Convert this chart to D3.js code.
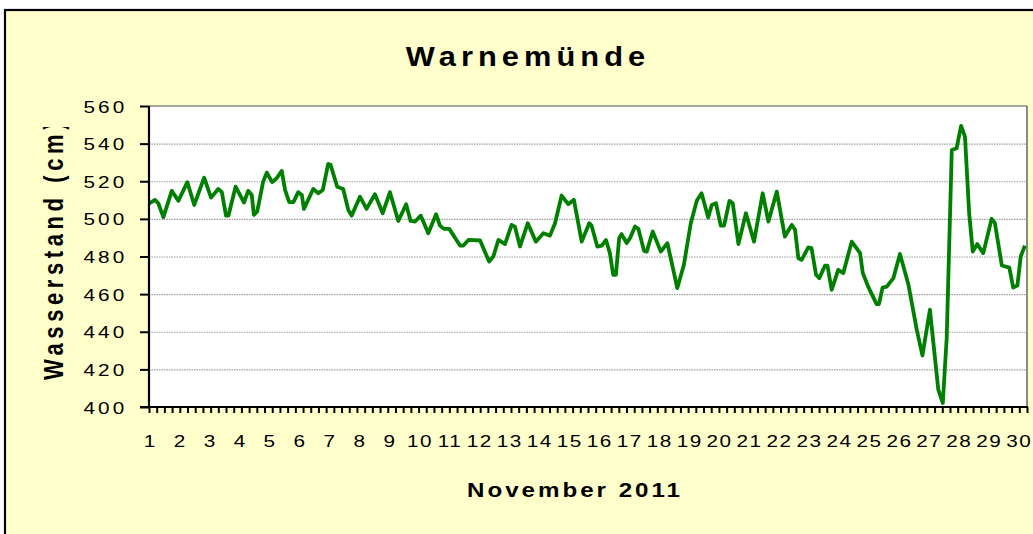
<!DOCTYPE html>
<html>
<head>
<meta charset="utf-8">
<script src="https://cdn.jsdelivr.net/npm/d3@7"></script>
<style>
  html, body { margin: 0; padding: 0; background: #ffffff; }
  svg { display: block; }
  text { font-family: "Liberation Sans", Arial, sans-serif; fill: #000; }
</style>
</head>
<body>
<svg id="chart" width="1033" height="534"></svg>
<script>
// ---- Data ----
const titleText = "Warnemünde";
const xTitle = "November 2011";
const yTitle = "Wasserstand (cm)";

// day position (1 = 1 Nov 00:00), water level in cm
const dayPos = [
  1.01, 1.20, 1.31, 1.48, 1.76, 1.98, 2.28, 2.51, 2.84, 3.07,
  3.31, 3.43, 3.57, 3.65, 3.89, 4.17, 4.31, 4.43, 4.50, 4.61,
  4.81, 4.93, 5.11, 5.26, 5.43, 5.54, 5.68, 5.82, 5.98, 6.10,
  6.17, 6.48, 6.65, 6.80, 6.98, 7.06, 7.28, 7.48, 7.65, 7.76,
  8.04, 8.26, 8.54, 8.80, 9.04, 9.32, 9.58, 9.73, 9.88, 10.07,
  10.32, 10.58, 10.71, 10.84, 11.02, 11.38, 11.49, 11.66, 12.05, 12.35,
  12.49, 12.66, 12.88, 13.10, 13.21, 13.38, 13.64, 13.91, 14.16, 14.38,
  14.55, 14.77, 14.99, 15.18, 15.44, 15.69, 15.77, 15.96, 16.11, 16.25,
  16.38, 16.49, 16.58, 16.69, 16.77, 16.94, 17.05, 17.22, 17.33, 17.52,
  17.61, 17.81, 18.08, 18.30, 18.63, 18.85, 19.08, 19.28, 19.44, 19.66,
  19.78, 19.92, 20.08, 20.19, 20.37, 20.48, 20.67, 20.92, 21.19, 21.48,
  21.67, 21.95, 22.22, 22.45, 22.56, 22.67, 22.78, 23.00, 23.11, 23.26,
  23.37, 23.56, 23.64, 23.78, 24.00, 24.17, 24.45, 24.73, 24.82, 25.00,
  25.28, 25.36, 25.48, 25.62, 25.84, 26.06, 26.34, 26.62, 26.81, 27.06,
  27.34, 27.49, 27.62, 27.79, 27.95, 28.10, 28.23, 28.37, 28.49, 28.64,
  28.84, 29.12, 29.23, 29.46, 29.71, 29.84, 29.98, 30.09, 30.23
];
const level = [
  508.3, 510.1, 508.3, 500.9, 514.9, 509.6, 519.5, 507.4, 521.9, 511.3,
  515.9, 514.2, 501.7, 501.7, 517.1, 508.7, 514.9, 512.7, 502.1, 503.9,
  519.8, 524.6, 519.5, 521.6, 525.5, 515.4, 508.9, 508.9, 514.2, 512.7,
  505.3, 515.9, 513.6, 515.4, 529.2, 528.7, 517.1, 515.9, 504.8, 501.7,
  511.8, 505.3, 513.1, 503.0, 514.2, 498.9, 507.8, 498.9, 498.6, 501.7,
  492.4, 502.5, 496.4, 494.7, 494.7, 485.8, 485.8, 488.8, 488.5, 477.3,
  480.0, 488.8, 486.6, 496.8, 495.9, 485.3, 497.7, 487.9, 492.4, 491.1,
  497.7, 512.4, 507.8, 510.1, 487.9, 497.7, 496.4, 485.3, 485.8, 488.8,
  481.8, 470.3, 470.3, 489.7, 491.9, 487.1, 489.7, 495.9, 494.7, 483.0,
  482.6, 493.3, 482.6, 487.1, 463.2, 475.6, 497.7, 509.6, 513.6, 500.7,
  507.4, 508.3, 496.4, 496.4, 509.6, 508.3, 486.6, 503.0, 487.9, 513.6,
  498.6, 514.5, 490.6, 496.8, 494.2, 479.1, 478.2, 484.8, 484.4, 470.3,
  468.5, 475.2, 475.2, 462.3, 472.9, 471.2, 487.9, 481.8, 471.2, 464.0,
  454.7, 454.7, 463.5, 464.0, 468.5, 481.3, 465.3, 441.1, 427.4, 451.7,
  409.2, 402.1, 436.6, 536.6, 537.5, 549.4, 543.7, 503.0, 482.6, 486.6,
  481.8, 500.0, 497.7, 475.2, 474.1, 463.5, 464.6, 480.0, 485.8
];

const yTicks = [400, 420, 440, 460, 480, 500, 520, 540, 560];
const dayLabels = d3.range(1, 31);       // 1 ... 30
const minorTickCount = 114;              // small tick marks along the x axis

// ---- Layout ----
const W = 1033, H = 534;
const plot = { left: 149, right: 1027, top: 106, bottom: 407 };
const SX = 1.22;   // horizontal stretch of the glyphs, as in the reference

const svg = d3.select("#chart");

svg.append("rect").attr("x", 0).attr("y", 0).attr("width", W).attr("height", H).attr("fill", "#ffffff");
svg.append("rect")
  .attr("x", 5).attr("y", 10).attr("width", W + 20).attr("height", H + 20)
  .attr("fill", "#FFFFCC").attr("stroke", "#000").attr("stroke-width", 2.2);

const x = d3.scaleLinear().domain([1, 30.3]).range([plot.left, plot.right]);
const y = d3.scaleLinear().domain([400, 560]).range([plot.bottom, plot.top]);

svg.append("rect")
  .attr("x", plot.left).attr("y", plot.top)
  .attr("width", plot.right - plot.left).attr("height", plot.bottom - plot.top)
  .attr("fill", "#ffffff");

// gridlines
svg.append("g").selectAll("line")
  .data(yTicks.filter(v => v > 400 && v < 560))
  .join("line")
  .attr("x1", plot.left).attr("x2", plot.right)
  .attr("y1", d => y(d) + 0.5).attr("y2", d => y(d) + 0.5)
  .attr("stroke", "#a0a0a0").attr("stroke-width", 1.2)
  .attr("stroke-dasharray", "1.5,1");

svg.append("line")
  .attr("x1", plot.left).attr("x2", plot.right)
  .attr("y1", y(560)).attr("y2", y(560))
  .attr("stroke", "#8a8a8a").attr("stroke-width", 1.5);
svg.append("line")
  .attr("x1", plot.right).attr("x2", plot.right)
  .attr("y1", plot.top).attr("y2", plot.bottom)
  .attr("stroke", "#8a8a8a").attr("stroke-width", 2);

// data line
const line = d3.line().x((d, i) => x(dayPos[i])).y(d => y(d));
svg.append("path")
  .datum(level)
  .attr("d", line)
  .attr("fill", "none")
  .attr("stroke", "#008000")
  .attr("stroke-width", 3.8)
  .attr("stroke-linejoin", "round")
  .attr("stroke-linecap", "butt");

// y axis
const yAxis = svg.append("g")
  .attr("transform", `translate(${plot.left},0)`)
  .call(d3.axisLeft(y).tickValues(yTicks).tickSize(9).tickPadding(11).tickFormat(d3.format("d")));
yAxis.select(".domain").remove();
yAxis.selectAll(".tick line").attr("stroke", "#000").attr("stroke-width", 2);
yAxis.selectAll(".tick text")
  .attr("font-size", 17).attr("letter-spacing", 2.6)
  .attr("font-family", "Liberation Sans, Arial, sans-serif")
  .attr("x", -21.5 / SX)
  .attr("transform", `scale(${SX},1)`)
  .attr("dy", "0.36em");
svg.append("line")
  .attr("x1", plot.left).attr("x2", plot.left)
  .attr("y1", plot.top).attr("y2", plot.bottom + 1)
  .attr("stroke", "#000").attr("stroke-width", 2.2);

// x axis: small ticks
const minorTicks = d3.range(minorTickCount + 1).map(i => 1 + i * (30.3 - 1) / minorTickCount);
const xMinor = svg.append("g")
  .attr("transform", `translate(0,${plot.bottom})`)
  .call(d3.axisBottom(x).tickValues(minorTicks).tickSize(6).tickFormat(""));
xMinor.select(".domain").remove();
xMinor.selectAll(".tick line").attr("stroke", "#000").attr("stroke-width", 2);

svg.append("line")
  .attr("x1", plot.left - 9).attr("x2", plot.right + 1)
  .attr("y1", plot.bottom).attr("y2", plot.bottom)
  .attr("stroke", "#000").attr("stroke-width", 2.2);

// x axis labels
const xLab = svg.append("g")
  .attr("transform", `translate(0,${plot.bottom})`)
  .call(d3.axisBottom(x).tickValues(dayLabels).tickSize(0).tickPadding(28).tickFormat(d3.format("d")));
xLab.select(".domain").remove();
xLab.selectAll(".tick text")
  .attr("font-size", 17).attr("letter-spacing", 1.2)
  .attr("font-family", "Liberation Sans, Arial, sans-serif")
  .attr("x", 0.6)
  .attr("transform", `scale(${SX},1)`);

// title
svg.append("text")
  .attr("transform", `translate(528,66) scale(1.1,1)`)
  .attr("text-anchor", "middle")
  .attr("font-size", 28).attr("font-weight", "bold").attr("letter-spacing", 4.6)
  .text(titleText);

// x axis title
svg.append("text")
  .attr("transform", `translate(575,497) scale(1.15,1)`)
  .attr("text-anchor", "middle")
  .attr("font-size", 21).attr("font-weight", "bold").attr("letter-spacing", 2.6)
  .text(xTitle);

// y axis title (clipped at the top as in the reference)
svg.append("clipPath").attr("id", "ytclip")
  .append("rect").attr("x", 0).attr("y", 127).attr("width", 140).attr("height", 300);
svg.append("g").attr("clip-path", "url(#ytclip)")
  .append("text")
  .attr("transform", "translate(63,380) scale(1.22,1) rotate(-90)")
  .attr("text-anchor", "start")
  .attr("font-size", 22).attr("font-weight", "bold").attr("letter-spacing", 4.6)
  .text(yTitle);
</script>
</body>
</html>
